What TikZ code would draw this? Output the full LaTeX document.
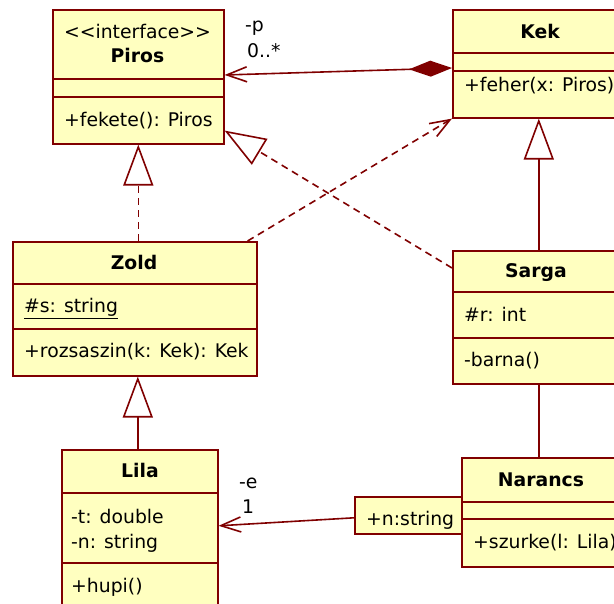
\documentclass[tikz,border=0pt]{standalone}
\usepackage{fontspec}
\setmainfont{DejaVu Sans}
\usetikzlibrary{arrows.meta}
\definecolor{dred}{HTML}{800000}
\definecolor{cfill}{HTML}{FFFFC0}
\begin{document}
\begin{tikzpicture}[x=1pt,y=-1pt,
  font=\fontsize{18.8}{22}\selectfont,
  box/.style={draw=dred, fill=cfill, line width=1.6pt, rectangle, inner sep=0pt, anchor=north west},
  sepline/.style={draw=dred, line width=1.6pt},
  txt/.style={inner sep=0pt, anchor=base west},
  ctxt/.style={inner sep=0pt, anchor=base},
  conn/.style={draw=dred, line width=1.6pt},
  dsh/.style={dash pattern=on 7pt off 5pt},
  openarr/.style={-{Straight Barb[length=20pt,width=15pt]}},
  gen/.style={-{Triangle[open,length=41pt,width=30pt]}},
  comp/.style={{Diamond[length=43pt,width=16pt]}-{Straight Barb[length=20pt,width=15pt]}}
]
\useasboundingbox (0,0) rectangle (614,604);
\fill[white] (0,0) rectangle (614,604);
\clip (0,0) rectangle (614,604);

% Piros
\node[box, minimum width=171pt, minimum height=134pt] (piros) at (52,9) {};
\draw[sepline] (52,79) -- (223,79);
\draw[sepline] (52,97) -- (223,97);
\node[ctxt] (piros1) at (137.5,39) {<\kern0pt<interface>\kern0pt>};
\node[ctxt] (piros2) at (137.5,63) {\bfseries Piros};
\node[txt] (piros3) at (64,127) {+fekete(): Piros};

% Kek
\node[box, minimum width=176pt, minimum height=108pt] (kek) at (452,9) {};
\draw[sepline] (452,53) -- (628,53);
\draw[sepline] (452,71) -- (628,71);
\node[ctxt] (kek1) at (540,39) {\bfseries Kek};
\node[txt] (kek2) at (464,92) {+feher(x: Piros)};

% Zold
\node[box, minimum width=244pt, minimum height=134pt] (zold) at (12,241) {};
\draw[sepline] (12,284) -- (256,284);
\draw[sepline] (12,329) -- (256,329);
\node[ctxt] (zold1) at (134,270) {\bfseries Zold};
\node[txt] (zold2) at (24,313) {\underline{\#s: string}};
\node[txt] (zold3) at (24,358) {+rozsaszin(k: Kek): Kek};

% Sarga
\node[box, minimum width=168pt, minimum height=133pt] (sarga) at (452,250) {};
\draw[sepline] (452,292) -- (620,292);
\draw[sepline] (452,338) -- (620,338);
\node[ctxt] (sarga1) at (536,278) {\bfseries Sarga};
\node[txt] (sarga2) at (464,322) {\#r: int};
\node[txt] (sarga3) at (464,367) {-barna()};

% Lila
\node[box, minimum width=156pt, minimum height=161pt] (lila) at (61,449) {};
\draw[sepline] (61,493) -- (217,493);
\draw[sepline] (61,563) -- (217,563);
\node[ctxt] (lila1) at (140,478) {\bfseries Lila};
\node[txt] (lila2) at (71,523) {-t: double};
\node[txt] (lila3) at (71,548) {-n: string};
\node[txt] (lila4) at (71,592) {+hupi()};

% Narancs
\node[box, minimum width=158pt, minimum height=109pt] (narancs) at (461,457) {};
\draw[sepline] (461,502) -- (619,502);
\draw[sepline] (461,519) -- (619,519);
\node[ctxt] (nar1) at (541,486) {\bfseries Narancs};
\node[txt] (nar2) at (473,548) {+szurke(l: Lila)};

% Qualifier
\node[box, minimum width=107pt, minimum height=37pt] (qual) at (354,496) {};
\node[txt] (qual1) at (366,525) {+n:string};

% Connectors
\draw[conn, comp] ([yshift=-59pt]kek.north west) -- ([yshift=-66pt]piros.north east);
\draw[conn, dsh, openarr] ([xshift=-10pt]zold.north east) -- (kek.south west);
\draw[conn, dsh, gen] ([yshift=-18pt]sarga.north west) -- ([yshift=14pt]piros.south east);
\draw[conn, dsh, gen] (piros.south |- zold.north) -- (piros.south);
\draw[conn, gen] ([xshift=-2pt]lila.north) -- ([xshift=-2pt]lila.north |- zold.south);
\draw[conn, gen] ([xshift=2pt]sarga.north) -- ([xshift=2pt]sarga.north |- kek.south);
\draw[conn] ([xshift=2pt]sarga.south) -- ([xshift=2pt]sarga.south |- narancs.north);
\draw[conn, openarr] ([yshift=-2.5pt]qual.west) -- ([yshift=4.5pt]lila.east);

% Role labels
\node[txt] (lp) at (245,32) {-p};
\node[txt] (lm) at (247,58) {0..*};
\node[txt] (le) at (239,488) {-e};
\node[txt] (l1) at (242,513) {1};
\end{tikzpicture}
\end{document}
